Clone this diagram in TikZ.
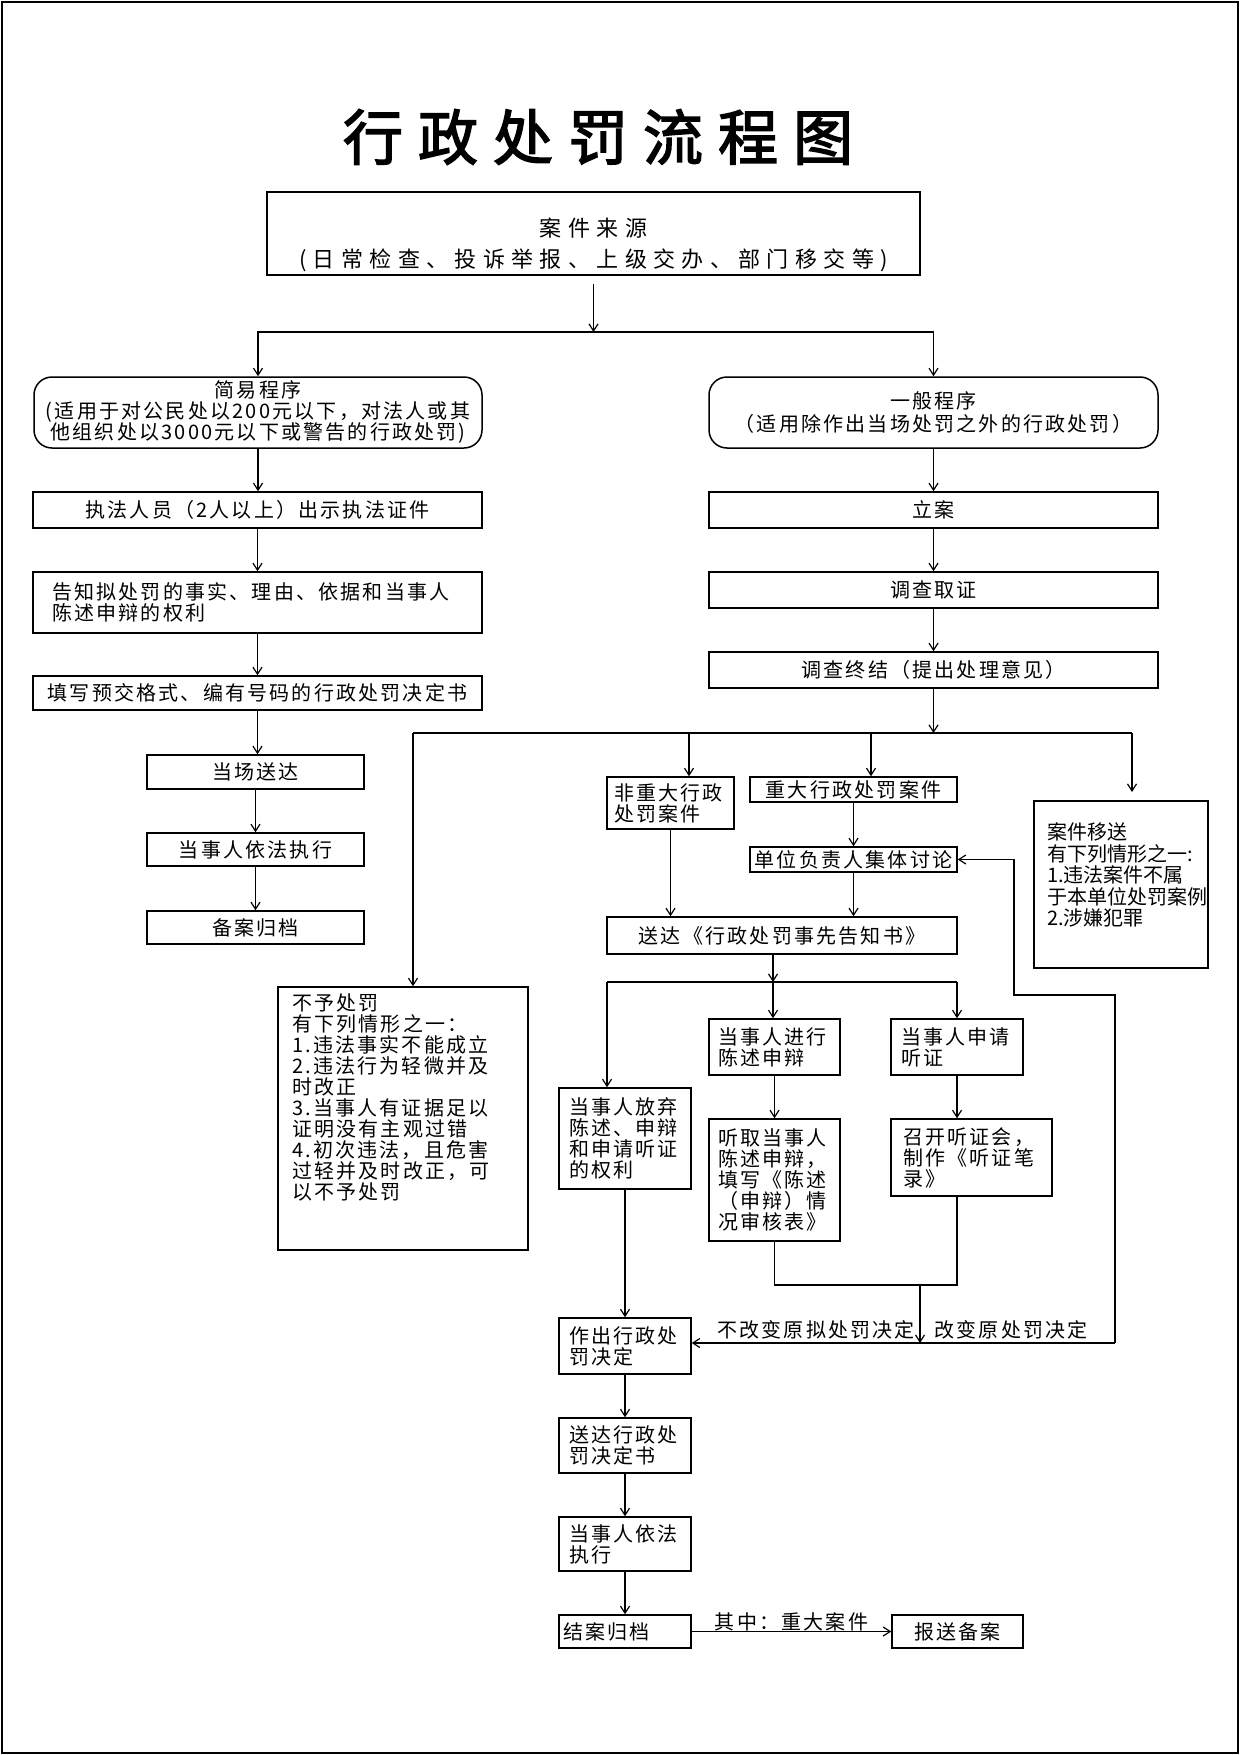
\documentclass[tikz,border=0pt]{standalone}
\usepackage{fontspec}
\setmainfont{Noto Sans CJK SC}
\newfontfamily\titlefont[FakeBold=2.5,LetterSpace=25]{Noto Sans CJK SC}
\newfontfamily\srcfont[LetterSpace=29]{Noto Sans CJK SC}
\newfontfamily\bodyfont[LetterSpace=11]{Noto Sans CJK SC}
\newfontfamily\plainfont{Noto Sans CJK SC}
\usetikzlibrary{arrows.meta}

\begin{document}
\begin{tikzpicture}[x=1pt,y=-1pt,
  box/.style={draw,line width=1.5pt,inner sep=0pt,font=\bodyfont\fontsize{20pt}{21pt}\selectfont,align=center},
  rbox/.style={box,rounded corners=18pt},
  lbox/.style={box,align=left},
  wire/.style={line width=1.2pt},
  arr/.style={wire,-{Straight Barb[length=7pt,width=9pt]}},
  lbl/.style={inner sep=0pt,font=\bodyfont\fontsize{20pt}{21pt}\selectfont}]
\useasboundingbox (0,0) rectangle (1241,1755);
\draw[line width=2pt] (2,2) rectangle (1238,1753);
\node[font=\titlefont\fontsize{60pt}{60pt}\selectfont] (title) at (598,137) {行政处罚流程图};
\node[box,text width=653pt,text height=44.4pt,text depth=38.6pt,font=\srcfont\fontsize{22pt}{31pt}\selectfont] (src) at (593.5,233.5) {案件来源\\(日常检查、投诉举报、上级交办、部门移交等)};
\node[rbox,minimum width=448pt,minimum height=71pt] (simple) at (258,412.5) {简易程序\\(适用于对公民处以200元以下，对法人或其\\他组织处以3000元以下或警告的行政处罚)};
\node[rbox,minimum width=449pt,minimum height=71pt] (general) at (933.5,412.5) {一般程序\\[2pt]（适用除作出当场处罚之外的行政处罚）};
\node[box,minimum width=449pt,minimum height=36pt] (zhifa) at (257.5,510) {执法人员（2人以上）出示执法证件};
\node[lbox,text width=411pt,inner xsep=19pt,minimum height=61pt] (gaozhi) at (257.5,602.5) {告知拟处罚的事实、理由、依据和当事人\\陈述申辩的权利};
\node[box,minimum width=449pt,minimum height=34pt] (tianxie) at (257.5,693) {填写预交格式、编有号码的行政处罚决定书};
\node[box,minimum width=217pt,minimum height=34pt] (dangchang) at (255.5,772) {当场送达};
\node[box,minimum width=217pt,minimum height=33pt] (yifa) at (255.5,849.5) {当事人依法执行};
\node[box,minimum width=217pt,minimum height=33pt] (beian) at (255.5,927.5) {备案归档};
\node[box,minimum width=449pt,minimum height=36pt] (lian) at (933.5,510) {立案};
\node[box,minimum width=449pt,minimum height=36pt] (diaocha) at (933.5,590) {调查取证};
\node[box,minimum width=449pt,minimum height=36pt] (zhongjie) at (933.5,670) {调查终结（提出处理意见）};
\node[lbox,text width=113pt,inner xsep=7pt,minimum height=52pt] (feizd) at (670.5,803) {非重大行政\\处罚案件};
\node[box,minimum width=207pt,minimum height=25pt] (zd) at (853.5,789.5) {重大行政处罚案件};
\node[box,minimum width=207pt,minimum height=25pt] (taolun) at (853.5,859.5) {单位负责人集体讨论};
\node[box,minimum width=350pt,minimum height=37pt] (gaozhishu) at (782,935.5) {送达《行政处罚事先告知书》};
\node[lbox,text width=148pt,inner xsep=13pt,text height=38.6pt,text depth=128.4pt,font=\plainfont\fontsize{20pt}{21.5pt}\selectfont] (yisong) at (1121,884.5) {案件移送\\有下列情形之一:\\1.违法案件不属\\于本单位处罚案例\\2.涉嫌犯罪};
\node[lbox,text width=222pt,inner xsep=14pt,text height=23.6pt,text depth=239.4pt] (buyu) at (403,1118.5) {不予处罚\\有下列情形之一：\\1.违法事实不能成立\\2.违法行为轻微并及\\时改正\\3.当事人有证据足以\\证明没有主观过错\\4.初次违法，且危害\\过轻并及时改正，可\\以不予处罚};
\node[lbox,text width=112pt,inner xsep=10pt,minimum height=101pt] (fangqi) at (625,1138.5) {当事人放弃\\陈述、申辩\\和申请听证\\的权利};
\node[lbox,text width=113pt,inner xsep=9pt,minimum height=56pt] (chenshu) at (774.5,1047) {当事人进行\\陈述申辩};
\node[lbox,text width=112pt,inner xsep=10pt,minimum height=56pt] (tingzheng) at (957,1047) {当事人申请\\听证};
\node[lbox,text width=113pt,inner xsep=9pt,minimum height=122pt] (tingqu) at (774.5,1180) {听取当事人\\陈述申辩，\\填写《陈述\\（申辩）情\\况审核表》};
\node[lbox,text width=137pt,inner xsep=12pt,minimum height=77pt] (zhaokai) at (971.5,1157.5) {召开听证会，\\制作《听证笔\\录》};
\node[lbox,text width=112pt,inner xsep=10pt,minimum height=56pt] (zuochu) at (625,1346) {作出行政处\\罚决定};
\node[lbox,text width=112pt,inner xsep=10pt,minimum height=55pt] (songda) at (625,1445.5) {送达行政处\\罚决定书};
\node[lbox,text width=112pt,inner xsep=10pt,minimum height=54pt] (zhixing) at (625,1544) {当事人依法\\执行};
\node[lbox,text width=124pt,inner xsep=4pt,minimum height=33pt] (jiean) at (625,1631.5) {结案归档};
\node[box,minimum width=131pt,minimum height=33pt] (baosong) at (957.5,1631.5) {报送备案};
\node[lbl] (keep) at (816,1330) {不改变原拟处罚决定};
\node[lbl] (change) at (1011,1330) {改变原处罚决定};
\coordinate (fork) at (593.5,332);
\coordinate (busA) at (413,733); \coordinate (busB) at (1132,733);
\coordinate (tapF) at (689,733); \coordinate (tapZ) at (871,733);
\coordinate (toYisong) at (1132,792);
\coordinate (tapS) at (773,982); \coordinate (busC) at (607,982);
\coordinate (merge) at (920,1285); \coordinate (bus2) at (920,1343);
\coordinate (loopR) at (1115,1343); \coordinate (loopT) at (1014,995);
\draw[arr] ([yshift=-8pt]src.south) -- (fork);
\draw[arr] (fork) -| (simple.north); \draw[arr] (fork) -| (general.north);
\foreach \a/\b in {simple/zhifa,zhifa/gaozhi,gaozhi/tianxie,tianxie/dangchang,dangchang/yifa,yifa/beian,general/lian,lian/diaocha,diaocha/zhongjie,feizd/gaozhishu,zd/taolun,taolun/gaozhishu,chenshu/tingqu,tingzheng/zhaokai,fangqi/zuochu,zuochu/songda,songda/zhixing,zhixing/jiean}
  \draw[arr] (\a.south) -- (\a.south |- \b.north);
\draw[arr] (zhongjie.south) -- (zhongjie.south |- busA);
\draw[wire] (busA) -- (busB);
\draw[arr] (busA) -- (busA |- buyu.north);
\draw[arr] (tapF) -- (tapF |- feizd.north); \draw[arr] (tapZ) -- (tapZ |- zd.north);
\draw[arr] (busB) -- (toYisong);
\draw[arr] (tapS |- gaozhishu.south) -- (tapS);
\draw[wire] (busC) -- (tapS -| tingzheng.north);
\draw[arr] (busC) -- (busC |- fangqi.north);
\draw[arr] (tapS) -- (tapS |- chenshu.north);
\draw[arr] (tapS -| tingzheng.north) -- (tingzheng.north);
\draw[wire] (tingqu.south) |- (merge -| tingzheng.south) -- (tingzheng.south |- zhaokai.south);
\draw[arr] (merge) -- (bus2);
\draw[arr] (loopR) -- (loopR -| zuochu.east);
\draw[arr] (loopR) |- (loopT) |- (taolun.east);
\draw[arr] (jiean.east) -- node[lbl,above] (major) {其中：重大案件} (baosong.west);
\end{tikzpicture}
\end{document}
